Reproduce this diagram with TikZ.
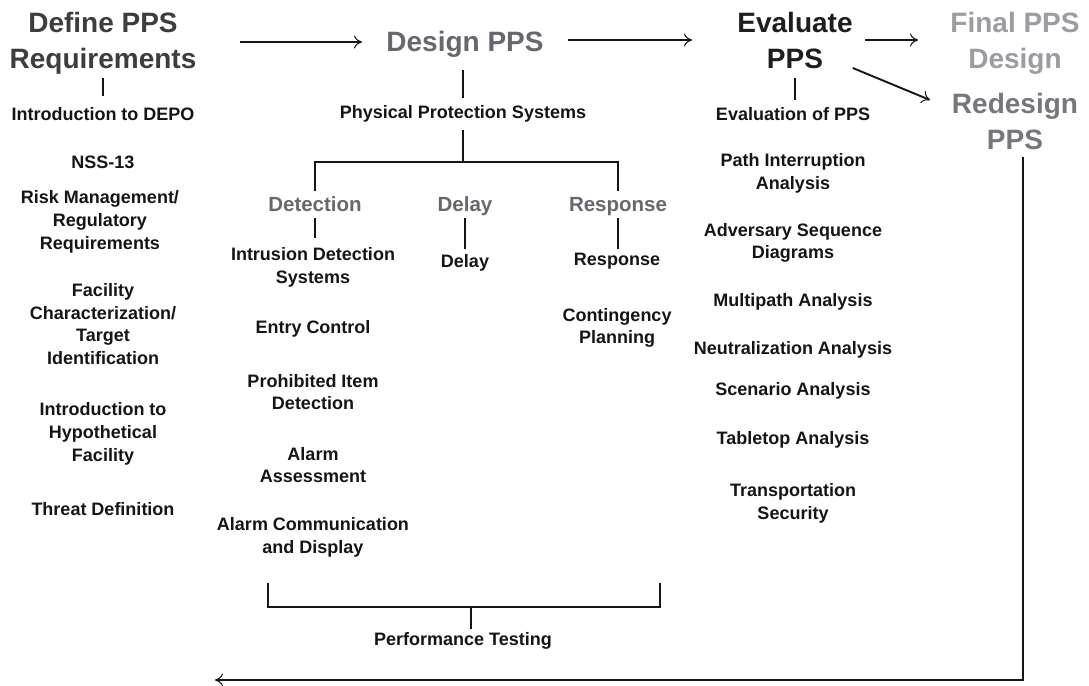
\documentclass[tikz,border=0pt]{standalone}
\usepackage{fontspec}
\setmainfont{Liberation Sans}
\usetikzlibrary{arrows.meta}
\definecolor{hdefine}{HTML}{3D3D3D}
\definecolor{hdesign}{HTML}{67676D}
\definecolor{heval}{HTML}{1E1E1E}
\definecolor{hfinal}{HTML}{9C9CA2}
\definecolor{hredesign}{HTML}{76767C}
\definecolor{subgray}{HTML}{67676D}
\definecolor{ink}{HTML}{151515}
\begin{document}
\begin{tikzpicture}[x=1pt,y=-1pt,
  item/.style={font=\fontsize{18}{22.7}\selectfont\bfseries, align=center, text=ink, inner sep=0pt},
  head/.style={font=\fontsize{28}{36}\selectfont\bfseries, align=center, inner sep=0pt},
  sub/.style={font=\fontsize{20.5}{24}\selectfont\bfseries, text=subgray, inner sep=0pt, anchor=base},
  conn/.style={line width=1.9pt, draw=ink},
  arr/.style={conn, -{To[length=8pt,width=13pt,line width=1pt]}}]
\useasboundingbox (0,0) rectangle (1089,685);
\fill[white] (0,0) rectangle (1089,685);

% headings
\node[head, text=hdefine] (define) at (103,43) {Define PPS\\Requirements};
\node[head, text=hdesign] (design) at (465,44) {Design PPS};
\node[head, text=heval] (evaluate) at (795,40) {Evaluate\\PPS};
\node[head, text=hfinal] (final) at (1015,43) {Final PPS\\Design};
\node[head, text=hredesign] (redesign) at (1015,121) {Redesign\\PPS};

% main arrows
\draw[arr] (define.east -| 240,0) ++(0,-1) -- (362,42);
\draw[arr] (design.east -| 568,0) ++(0,-4) -- (692,40);
\draw[arr] (evaluate.east -| 865,0) -- (evaluate.east -| 918,0);
\draw[arr] (evaluate.east |- 0,68) -- (930,100) coordinate (r4);

% left column
\node[item] (intro) at (103,114) {Introduction to DEPO};
\node[item] (nss) at (103,162) {NSS-13};
\node[item] (risk) at (100,222) {Risk Management/\\Regulatory\\Requirements};
\node[item] (fac) at (103,324) {Facility\\Characterization/\\Target\\Identification};
\node[item] (hyp) at (103,434) {Introduction to\\Hypothetical\\Facility};
\node[item] (threat) at (103,509) {Threat Definition};
\draw[conn] (define.south |- 0,78) -- (define.south |- 0,96);

% design column
\node[item] (pps) at (463,114) {Physical Protection Systems};
\draw[conn] (pps.north |- 0,70) -- (pps.north |- 0,98);
\coordinate (br) at (463,162);
\draw[conn] (pps.south |- 0,130) -- (br);
\node[sub] (det) at (315,211) {Detection};
\node[sub] (del) at (465,211) {Delay};
\node[sub] (resp) at (618,211) {Response};
\draw[conn] (det.center |- 0,191) |- (br) -| (resp.center |- 0,191);
\draw[conn] (det.center |- 0,218) -- (det.center |- 0,238);
\draw[conn] (del.center |- 0,218) -- (del.center |- 0,249);
\draw[conn] (resp.center |- 0,218) -- (resp.center |- 0,249);

\node[item] (ids) at (313,267) {Intrusion Detection\\Systems};
\node[item] (delay2) at (465,263) {Delay};
\node[item] (resp2) at (617,261) {Response};
\node[item] (entry) at (313,329) {Entry Control};
\node[item] (prohib) at (313,392) {Prohibited Item\\Detection};
\node[item] (alarm) at (313,465) {Alarm\\Assessment};
\node[item] (acd) at (313,537) {Alarm Communication\\and Display};
\node[item] (cont) at (617,328) {Contingency\\Planning};

% performance testing bracket
\coordinate (bl) at (268,583);
\coordinate (brr) at (660,583);
\draw[conn] (bl) -- (bl |- 0,607) -| (brr);
\node[item] (perf) at (463,641) {Performance Testing};
\draw[conn] (perf.north -| 471,0) ++(0,-3) -- (471,607);

% evaluate column
\draw[conn] (evaluate.south |- 0,78) -- (evaluate.south |- 0,100);
\node[item] (evalpps) at (793,114) {Evaluation of PPS};
\node[item] (path) at (793,173) {Path Interruption\\Analysis};
\node[item] (adv) at (793,243) {Adversary Sequence\\Diagrams};
\node[item] (multi) at (793,302) {Multipath Analysis};
\node[item] (neut) at (793,350) {Neutralization Analysis};
\node[item] (scen) at (793,391) {Scenario Analysis};
\node[item] (table) at (793,440) {Tabletop Analysis};
\node[item] (trans) at (793,503) {Transportation\\Security};

% return loop
\coordinate (ret) at (215,680);
\draw[arr] (redesign.south -| 1023,0) ++(0,8) |- (ret);
\end{tikzpicture}
\end{document}
